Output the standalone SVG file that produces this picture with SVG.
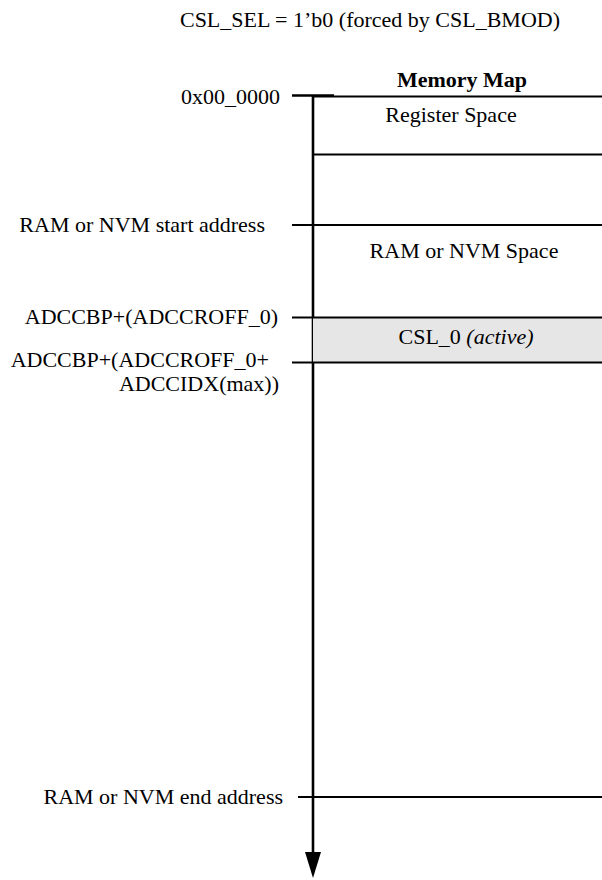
<svg xmlns="http://www.w3.org/2000/svg" width="602" height="880" viewBox="0 0 602 880">
<style>
text{font-family:"Liberation Serif","Times New Roman",serif;font-size:22px;fill:#000}
.b{font-weight:bold}
.ln{stroke:#000;stroke-width:2;fill:none}
</style>
<rect width="602" height="880" fill="#fff"/>
<text x="370" y="27" text-anchor="middle">CSL_SEL = 1’b0 (forced by CSL_BMOD)</text>
<text x="462" y="87" text-anchor="middle" class="b">Memory Map</text>
<g id="connectors">
<line class="ln" x1="313" y1="96" x2="313" y2="854" style="stroke-width:2.6"/>
<path d="M305,852 L321,852 L313,878 Z" fill="#000"/>
</g>
<g id="register">
<line class="ln" x1="292" y1="95.5" x2="334" y2="95.5" style="stroke-width:2.6"/>
<rect x="313" y="96.5" width="300" height="58" class="ln"/>
<text x="451" y="122" text-anchor="middle">Register Space</text>
<text x="280" y="104" text-anchor="end">0x00_0000</text>
</g>
<g id="ram">
<line class="ln" x1="292" y1="225" x2="602" y2="225"/>
<text x="265" y="232" text-anchor="end">RAM or NVM start address</text>
<text x="464" y="258" text-anchor="middle">RAM or NVM Space</text>
</g>
<g id="csl0">
<rect x="313" y="318" width="300" height="45" fill="#e6e6e6"/>
<line class="ln" x1="292" y1="317.5" x2="602" y2="317.5"/>
<line class="ln" x1="292" y1="362.5" x2="602" y2="362.5"/>
<text x="466" y="344" text-anchor="middle">CSL_0 <tspan font-style="italic">(active)</tspan></text>
<text x="278" y="324" text-anchor="end">ADCCBP+(ADCCROFF_0)</text>
<text x="269" y="367" text-anchor="end">ADCCBP+(ADCCROFF_0+</text>
<text x="279" y="391" text-anchor="end">ADCCIDX(max))</text>
</g>
<g id="end">
<line class="ln" x1="298" y1="797" x2="602" y2="797"/>
<text x="283" y="804" text-anchor="end">RAM or NVM end address</text>
</g>
</svg>
